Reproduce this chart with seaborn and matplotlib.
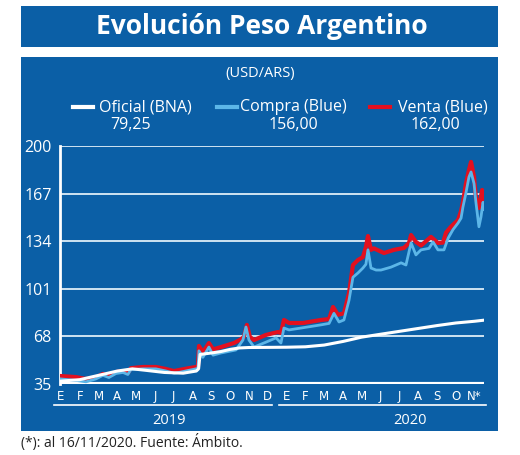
import numpy as np
import pandas as pd
import matplotlib
matplotlib.use("Agg")
import matplotlib.pyplot as plt
import seaborn as sns
from matplotlib.patches import Rectangle
from matplotlib.lines import Line2D

# month index: 0 = Jan 2019, 22.5 = 16 Nov 2020
oficial_x = [0, 1, 2, 2.5, 3, 3.8, 4.5, 5.5, 6.5, 7.2, 7.32, 7.4, 8, 8.5, 9, 9.5, 10, 11, 12, 13,
             14, 15, 16, 17, 18, 19, 20, 21, 22, 22.5]
oficial_y = [37.0, 38.0, 41.0, 42.5, 44.0, 45.5, 44.5, 43.0, 42.5, 44.0, 45.5, 55.5, 56.5, 57.5, 59.0,
             60.0, 60.3, 60.4, 60.5, 60.8, 62.0, 64.5, 67.5, 69.5, 71.5, 73.5, 75.5, 77.3, 78.5, 79.25]

compra_x = [0, 0.8, 1.33, 1.86, 2.23, 2.55, 2.93, 3.3, 3.56, 3.72, 4.36, 5.05, 5.59, 6.01, 6.28, 6.81,
            7.18, 7.29, 7.34, 7.55, 7.87, 8.09, 8.51, 9.31, 9.68, 9.84, 10.0, 10.27, 10.9, 11.44, 11.7,
            11.86, 12.13, 12.77, 13.83, 14.26, 14.52, 14.79, 15.05, 15.32, 15.53, 15.8, 16.06, 16.22,
            16.33, 16.49, 16.76, 17.02, 17.55, 18.09, 18.35, 18.62, 18.88, 19.15, 19.57, 19.79, 20.05,
            20.37, 20.59, 20.85, 21.12, 21.28, 21.38, 21.54, 21.7, 21.81, 21.97, 22.07, 22.23, 22.34,
            22.45, 22.5]
compra_y = [38.5, 37.5, 36.5, 38.5, 41.0, 39.5, 42.3, 43.0, 41.6, 45.0, 45.5, 45.5, 44.0, 42.5, 43.0, 44.5,
            45.5, 46.0, 58.0, 53.5, 60.6, 55.0, 56.5, 58.6, 65.5, 74.5, 65.5, 60.6, 64.0, 67.0, 63.4,
            73.8, 72.5, 73.8, 76.0, 77.0, 84.0, 78.0, 79.4, 93.0, 109.0, 112.0, 115.4, 118.0,
            128.0, 115.4, 114.0, 114.0, 116.0, 119.0, 117.5, 132.8, 124.5, 128.0, 129.0, 133.5, 128.0,
            128.0, 136.0, 142.0, 146.6, 150.0, 157.7, 167.5, 178.5, 182.0, 174.0, 161.0, 144.0, 150.8,
            161.0, 156.0]

venta_x = [0, 0.8, 1.33, 1.86, 2.23, 2.55, 2.93, 3.3, 3.56, 3.72, 4.36, 5.05, 5.59, 6.01, 6.28, 6.81,
           7.18, 7.29, 7.34, 7.55, 7.87, 8.09, 8.51, 9.2, 9.57, 9.73, 9.89, 10.05, 10.27, 10.9, 11.33,
           11.54, 11.7, 11.86, 12.13, 12.87, 13.83, 14.26, 14.47, 14.73, 15.05, 15.32, 15.53, 15.8,
           16.06, 16.22, 16.33, 16.49, 16.65, 17.18, 17.71, 18.24, 18.51, 18.62, 18.88, 19.15, 19.68,
           20.05, 20.32, 20.48, 20.74, 21.12, 21.28, 21.38, 21.54, 21.7, 21.81, 21.97, 22.07, 22.23,
           22.4, 22.5]
venta_y = [40.5, 39.8, 38.5, 39.5, 42.0, 40.5, 43.3, 44.0, 42.6, 46.0, 46.8, 46.8, 45.4, 44.0, 44.7, 46.0,
           46.8, 47.5, 61.4, 57.0, 63.4, 59.0, 60.6, 63.4, 66.0, 67.6, 76.0, 67.6, 65.5, 69.0, 70.4,
           71.0, 70.4, 79.4, 77.3, 77.3, 79.4, 80.0, 88.4, 83.0, 84.0, 98.0, 117.5, 121.0,
           123.0, 130.0, 137.6, 128.0, 129.0, 125.8, 128.0, 129.3, 132.8, 138.3, 133.5, 131.0, 137.0,
           132.8, 133.0, 140.0, 144.0, 148.7, 155.0, 161.0, 174.0, 183.4, 189.0, 178.5, 164.0, 157.0,
           169.5, 162.0]

month_labels = ["E", "F", "M", "A", "M", "J", "J", "A", "S", "O", "N", "D",
                "E", "F", "M", "A", "M", "J", "J", "A", "S", "O", "N*"]
y_ticks = [35, 68, 101, 134, 167, 200]
series_names = ["Oficial (BNA)", "Compra (Blue)", "Venta (Blue)"]
last_values = ["79,25", "156,00", "162,00"]

BOX = "#0b5fa6"
RED = "#e3101f"
LBLUE = "#5cb6e8"
GRID = "#cfe3f2"
FONT = ["Open Sans", "DejaVu Sans"]

plt.rcParams["font.family"] = FONT

W, H = 520, 455
fig = plt.figure(figsize=(W / 100, H / 100), dpi=100)
fig.patch.set_facecolor("white")

def fx(px):
    return px / W

def fy(py):
    return 1 - py / H

# background boxes
fig.patches.append(Rectangle((fx(21), fy(47)), fx(477), 41 / H, transform=fig.transFigure,
                             facecolor=BOX, edgecolor="none", zorder=-5))
fig.patches.append(Rectangle((fx(21), fy(431)), fx(477), 374 / H, transform=fig.transFigure,
                             facecolor=BOX, edgecolor="none", zorder=-5))

fig.text(fx(262), fy(27), "Evolución Peso Argentino", ha="center", va="center",
         color="white", fontsize=19, fontweight="bold")
fig.text(fx(260), fy(73), "(USD/ARS)", ha="center", va="center", color="white", fontsize=10.5)

ax = fig.add_axes([fx(60), fy(384), fx(424), 238 / H])
ax.set_facecolor("none")

df = pd.concat([
    pd.DataFrame({"mes": venta_x, "valor": venta_y, "serie": "Venta (Blue)"}),
    pd.DataFrame({"mes": compra_x, "valor": compra_y, "serie": "Compra (Blue)"}),
    pd.DataFrame({"mes": oficial_x, "valor": oficial_y, "serie": "Oficial (BNA)"}),
])
colors = {"Oficial (BNA)": "white", "Compra (Blue)": LBLUE, "Venta (Blue)": RED}
widths = {"Oficial (BNA)": 2.2, "Compra (Blue)": 2.0, "Venta (Blue)": 3.0}
for name in ["Venta (Blue)", "Compra (Blue)", "Oficial (BNA)"]:
    sub = df[df["serie"] == name]
    sns.lineplot(data=sub, x="mes", y="valor", color=colors[name], lw=widths[name], ax=ax,
                 legend=False, zorder=3)

ax.set_xlim(-0.05, 22.5)
ax.set_ylim(35, 200)
ax.set_yticks(y_ticks)
ax.set_yticklabels([str(v) for v in y_ticks], color="white", fontsize=11.5)
for v in y_ticks[1:]:
    ax.axhline(v, color=GRID, lw=1.4, zorder=1)
ax.axhline(35, color="white", lw=3, zorder=2)
ax.set_xticks(range(len(month_labels)))
ax.set_xticklabels(month_labels, color="white", fontsize=8.5,
                   family=["Liberation Sans Narrow", "DejaVu Sans"])
ax.tick_params(length=0, pad=4)
ax.tick_params(axis="y", pad=6)
ax.set_xlabel("")
ax.set_ylabel("")
for s in ["top", "right", "bottom"]:
    ax.spines[s].set_visible(False)
ax.spines["left"].set_color("white")
ax.spines["left"].set_linewidth(2)

# year underlines and labels
fig.add_artist(Line2D([fx(54), fx(272)], [fy(405), fy(405)], color="white", lw=1.2))
fig.add_artist(Line2D([fx(279), fx(486)], [fy(405), fy(405)], color="white", lw=1.2))
fig.text(fx(169), fy(420), "2019", ha="center", va="center", color="white", fontsize=10.5)
fig.text(fx(410), fy(420), "2020", ha="center", va="center", color="white", fontsize=10.5)

# legend
leg_x = [73, 217, 370]
text_x = [99, 240, 398]
val_x = [131, 293, 435]
for i, name in enumerate(series_names):
    fig.add_artist(Line2D([fx(leg_x[i]), fx(leg_x[i] + 20)], [fy(107), fy(107)],
                          color=colors[name], lw=3))
    fig.text(fx(text_x[i]), fy(107), name, ha="left", va="center", color="white", fontsize=11.5)
    fig.text(fx(val_x[i]), fy(125), last_values[i], ha="center", va="center",
             color="white", fontsize=11.5)

fig.text(fx(21), fy(442), "(*): al 16/11/2020. Fuente: Ámbito.", ha="left", va="center",
         color="#222222", fontsize=10)

fig.savefig("out.png", dpi=100)
